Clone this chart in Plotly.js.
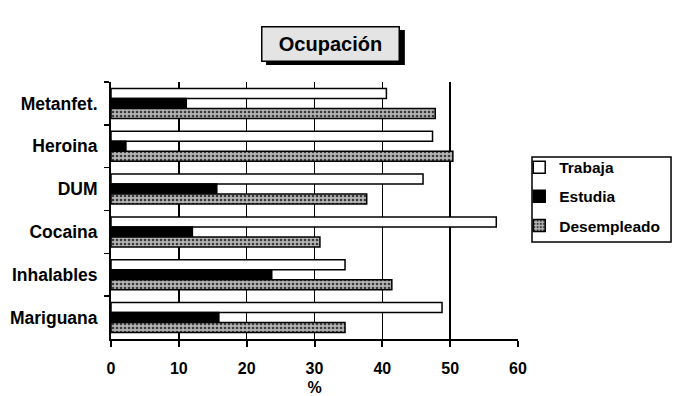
<!DOCTYPE html>
<html>
<head>
<meta charset="utf-8">
<script src="https://cdn.plot.ly/plotly-3.0.1.min.js"></script>
<style>html,body{margin:0;padding:0;background:#fff;}#chart{width:673px;height:396px;}</style>
</head>
<body>
<div id="chart"></div>
<script>
// Categories (top to bottom as shown)
const categories = ["Metanfet.", "Heroina", "DUM", "Cocaina", "Inhalables", "Mariguana"];
// Series values (%)
const trabaja     = [40.6, 47.4, 46.0, 56.8, 34.5, 48.8];
const estudia     = [11.1, 2.2, 15.6, 12.0, 23.7, 15.9];
const desempleado = [47.8, 50.4, 37.7, 30.8, 41.4, 34.5];
const xTicks = [0, 10, 20, 30, 40, 50, 60];

const FONT = "Liberation Sans, Arial, sans-serif";
const line = {color: "#000", width: 1.5};

const traces = [
  {type: "bar", orientation: "h", name: "Trabaja", y: categories, x: trabaja,
   legendgroup: "a", marker: {color: "#fff", line: line}},
  {type: "bar", orientation: "h", name: "Estudia", y: categories, x: estudia,
   legendgroup: "b", marker: {color: "#000", line: line}},
  {type: "bar", orientation: "h", name: "Desempleado", y: categories, x: desempleado,
   legendgroup: "c", marker: {color: "#a8a8a8", line: line,
     pattern: {shape: ".", fgcolor: "#3a3a3a", bgcolor: "#b4b4b4", size: 4, solidity: 0.35}}}
];

const layout = {
  width: 673, height: 396,
  margin: {l: 111, r: 155, t: 82, b: 57, autoexpand: false},
  paper_bgcolor: "#fff", plot_bgcolor: "#fff",
  font: {family: FONT, color: "#000", size: 16},
  barmode: "group", bargap: 0.3, bargroupgap: 0,
  showlegend: true,
  legend: {x: 1.003, y: 0.733, xanchor: "left", yanchor: "top",
    borderwidth: 0, bgcolor: "rgba(0,0,0,0)",
    font: {family: FONT, size: 15.5, weight: "bold", color: "#000"},
    traceorder: "grouped", tracegroupgap: 6, itemwidth: 30},
  xaxis: {range: [0, 60], tickvals: xTicks, ticktext: xTicks.map(String),
    showgrid: true, gridcolor: "#000", gridwidth: 1.5, zeroline: false,
    showline: true, linecolor: "#000", linewidth: 2,
    ticks: "outside", ticklen: 6, tickwidth: 2, tickcolor: "#000",
    ticklabelstandoff: 8,
    tickfont: {family: FONT, size: 16, weight: "bold"},
    title: {text: "%", font: {family: FONT, size: 16, weight: "bold"}, standoff: 13},
    fixedrange: true},
  yaxis: {type: "category", categoryorder: "array", categoryarray: categories,
    autorange: "reversed", showgrid: false, zeroline: false,
    showline: true, linecolor: "#000", linewidth: 2,
    ticks: "outside", ticklen: 5, tickwidth: 1.5, tickcolor: "#000", tickson: "boundaries",
    ticklabelstandoff: 8,
    tickfont: {family: FONT, size: 17.5, weight: "bold"},
    fixedrange: true},
  shapes: [
    // title box shadow
    {type: "rect", xref: "paper", yref: "paper", x0: 0.381, x1: 0.722, y0: 1.066, y1: 1.202,
     fillcolor: "#000", line: {width: 0}, layer: "above"},
    // legend frame
    {type: "rect", xref: "paper", yref: "paper", x0: 1.0344, x1: 1.376, y0: 0.377, y1: 0.708,
     fillcolor: "rgba(0,0,0,0)", line: {color: "#000", width: 1.5}, layer: "above"}
  ],
  annotations: [
    {xref: "paper", yref: "paper", x: 0.5405, y: 1.148, xanchor: "center", yanchor: "middle",
     text: "Ocupación", showarrow: false, width: 136, height: 33,
     bgcolor: "#e4e4e4", bordercolor: "#000", borderwidth: 1.5, borderpad: 0,
     font: {family: FONT, size: 20, weight: "bold", color: "#000"}}
  ]
};

Plotly.newPlot("chart", traces, layout, {displayModeBar: false, staticPlot: true});
</script>
</body>
</html>
